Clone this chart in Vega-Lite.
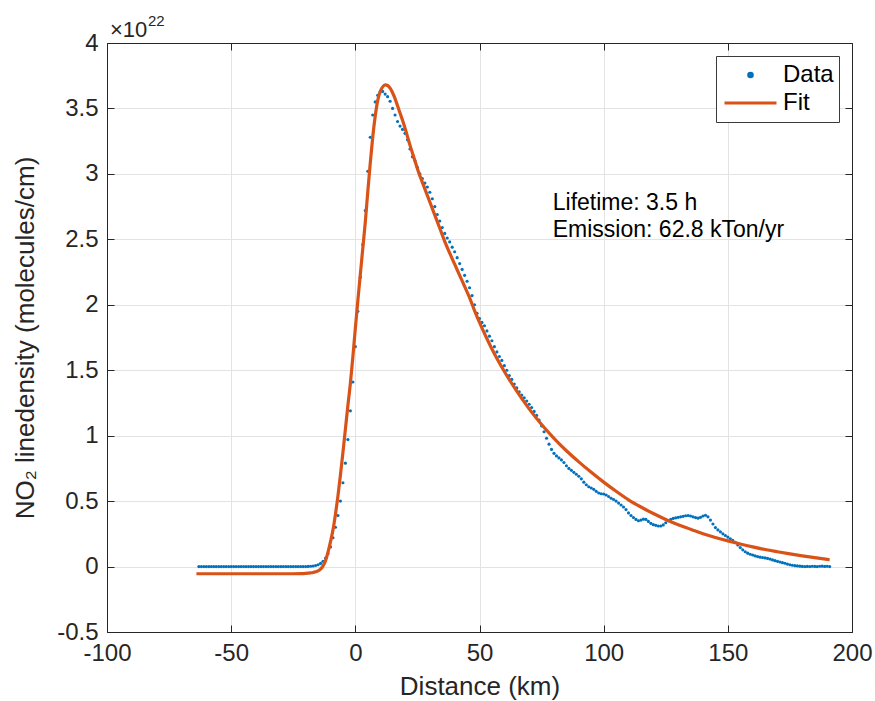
{
  "$schema": "https://vega.github.io/schema/vega-lite/v6.json",
  "width": 745,
  "height": 589,
  "autosize": "none",
  "padding": {"left": 107, "top": 43, "right": 23, "bottom": 69},
  "background": "white",
  "config": {
    "font": "Liberation Sans",
    "view": {"stroke": null},
    "axis": {"labelFont": "Liberation Sans", "titleFont": "Liberation Sans"},
    "legend": {
      "orient": "top-right",
      "offset": 13,
      "title": null,
      "fillColor": "white",
      "strokeColor": "#3a3a3a",
      "padding": 5,
      "cornerRadius": 0,
      "labelFontSize": 24,
      "labelColor": "#000000",
      "labelOffset": 5,
      "symbolOffset": 2,
      "clipHeight": 28,
      "rowPadding": 0
    }
  },
  "datasets": {
    "pts": [
      {"d":-63,"v":0},{"d":-62,"v":0},{"d":-61,"v":0},{"d":-60,"v":0},{"d":-59,"v":0},{"d":-58,"v":0},{"d":-57,"v":0},{"d":-56,"v":0},{"d":-55,"v":0},{"d":-54,"v":0},
      {"d":-53,"v":0},{"d":-52,"v":0},{"d":-51,"v":0},{"d":-50,"v":0},{"d":-49,"v":0},{"d":-48,"v":0},{"d":-47,"v":0},{"d":-46,"v":0},{"d":-45,"v":0},{"d":-44,"v":0},
      {"d":-43,"v":0},{"d":-42,"v":0},{"d":-41,"v":0},{"d":-40,"v":0},{"d":-39,"v":0},{"d":-38,"v":0},{"d":-37,"v":0},{"d":-36,"v":0},{"d":-35,"v":0},{"d":-34,"v":0},
      {"d":-33,"v":0},{"d":-32,"v":0},{"d":-31,"v":0},{"d":-30,"v":0},{"d":-29,"v":0},{"d":-28,"v":0},{"d":-27,"v":0},{"d":-26,"v":0},{"d":-25,"v":0},{"d":-24,"v":0},
      {"d":-23,"v":0},{"d":-22,"v":0},{"d":-21,"v":0},{"d":-20,"v":0},
      {"d":-19,"v":0.001},{"d":-18,"v":0.002},{"d":-17,"v":0.004},{"d":-16,"v":0.008},{"d":-15,"v":0.014},{"d":-14,"v":0.024},{"d":-13,"v":0.04},{"d":-12,"v":0.065},{"d":-11,"v":0.10},{"d":-10,"v":0.15},
      {"d":-9,"v":0.22},{"d":-8,"v":0.30},{"d":-7,"v":0.39},{"d":-6,"v":0.50},{"d":-5,"v":0.64},{"d":-4,"v":0.79},{"d":-3,"v":0.97},{"d":-2,"v":1.19},{"d":-1,"v":1.41},{"d":0,"v":1.68},
      {"d":1,"v":1.95},{"d":2,"v":2.21},{"d":3,"v":2.46},{"d":4,"v":2.72},{"d":5,"v":3.02},{"d":6,"v":3.28},{"d":7,"v":3.45},{"d":8,"v":3.55},{"d":9,"v":3.60},{"d":10,"v":3.625},
      {"d":11,"v":3.63},{"d":12,"v":3.61},{"d":13,"v":3.59},{"d":14,"v":3.555},{"d":15,"v":3.50},{"d":16,"v":3.45},{"d":17,"v":3.40},{"d":18,"v":3.365},{"d":19,"v":3.34},{"d":20,"v":3.31},
      {"d":21,"v":3.26},{"d":22,"v":3.19},{"d":23,"v":3.13},{"d":24,"v":3.10},{"d":25,"v":3.05},{"d":26,"v":3.00},{"d":27,"v":2.965},{"d":28,"v":2.93},{"d":29,"v":2.90},{"d":30,"v":2.86},
      {"d":31,"v":2.81},{"d":32,"v":2.75},{"d":33,"v":2.69},{"d":34,"v":2.64},{"d":35,"v":2.59},{"d":36,"v":2.545},{"d":37,"v":2.51},{"d":38,"v":2.48},{"d":39,"v":2.44},{"d":40,"v":2.405},
      {"d":41,"v":2.36},{"d":42,"v":2.315},{"d":43,"v":2.27},{"d":44,"v":2.225},{"d":45,"v":2.18},{"d":46,"v":2.13},{"d":47,"v":2.07},{"d":48,"v":2.00},{"d":49,"v":1.935},{"d":50,"v":1.895},
      {"d":51,"v":1.865},{"d":52,"v":1.84},{"d":53,"v":1.80},{"d":54,"v":1.76},{"d":55,"v":1.725},{"d":56,"v":1.68},{"d":57,"v":1.64},{"d":58,"v":1.605},{"d":59,"v":1.575},{"d":60,"v":1.535},
      {"d":61,"v":1.50},{"d":62,"v":1.46},{"d":63,"v":1.43},{"d":64,"v":1.395},{"d":65,"v":1.365},{"d":66,"v":1.335},{"d":67,"v":1.31},{"d":68,"v":1.29},{"d":69,"v":1.265},{"d":70,"v":1.24},
      {"d":71,"v":1.215},{"d":72,"v":1.185},{"d":73,"v":1.155},{"d":74,"v":1.12},{"d":75,"v":1.075},{"d":76,"v":1.03},{"d":77,"v":0.98},{"d":78,"v":0.935},{"d":79,"v":0.895},{"d":80,"v":0.865},
      {"d":81,"v":0.845},{"d":82,"v":0.83},{"d":83,"v":0.815},{"d":84,"v":0.795},{"d":85,"v":0.77},{"d":86,"v":0.75},{"d":87,"v":0.735},{"d":88,"v":0.72},{"d":89,"v":0.705},{"d":90,"v":0.69},
      {"d":91,"v":0.67},{"d":92,"v":0.645},{"d":93,"v":0.625},{"d":94,"v":0.61},{"d":95,"v":0.60},{"d":96,"v":0.59},{"d":97,"v":0.575},{"d":98,"v":0.562},{"d":99,"v":0.556},{"d":100,"v":0.554},
      {"d":101,"v":0.547},{"d":102,"v":0.535},{"d":103,"v":0.522},{"d":104,"v":0.512},{"d":105,"v":0.50},{"d":106,"v":0.485},{"d":107,"v":0.47},{"d":108,"v":0.455},{"d":109,"v":0.435},{"d":110,"v":0.41},
      {"d":111,"v":0.39},{"d":112,"v":0.375},{"d":113,"v":0.36},{"d":114,"v":0.35},{"d":115,"v":0.355},{"d":116,"v":0.362},{"d":117,"v":0.36},{"d":118,"v":0.345},{"d":119,"v":0.33},{"d":120,"v":0.32},
      {"d":121,"v":0.315},{"d":122,"v":0.31},{"d":123,"v":0.31},{"d":124,"v":0.318},{"d":125,"v":0.335},{"d":126,"v":0.35},{"d":127,"v":0.36},{"d":128,"v":0.368},{"d":129,"v":0.372},{"d":130,"v":0.376},
      {"d":131,"v":0.38},{"d":132,"v":0.384},{"d":133,"v":0.388},{"d":134,"v":0.39},{"d":135,"v":0.386},{"d":136,"v":0.38},{"d":137,"v":0.374},{"d":138,"v":0.37},{"d":139,"v":0.376},{"d":140,"v":0.386},
      {"d":141,"v":0.392},{"d":142,"v":0.38},{"d":143,"v":0.355},{"d":144,"v":0.325},{"d":145,"v":0.298},{"d":146,"v":0.28},{"d":147,"v":0.265},{"d":148,"v":0.25},{"d":149,"v":0.237},{"d":150,"v":0.225},
      {"d":151,"v":0.212},{"d":152,"v":0.2},{"d":153,"v":0.186},{"d":154,"v":0.165},{"d":155,"v":0.145},{"d":156,"v":0.128},{"d":157,"v":0.113},{"d":158,"v":0.102},{"d":159,"v":0.094},{"d":160,"v":0.088},
      {"d":161,"v":0.081},{"d":162,"v":0.076},{"d":163,"v":0.072},{"d":164,"v":0.069},{"d":165,"v":0.066},{"d":166,"v":0.062},{"d":167,"v":0.057},{"d":168,"v":0.051},{"d":169,"v":0.045},{"d":170,"v":0.04},
      {"d":171,"v":0.035},{"d":172,"v":0.03},{"d":173,"v":0.025},{"d":174,"v":0.019},{"d":175,"v":0.014},{"d":176,"v":0.01},{"d":177,"v":0.007},{"d":178,"v":0.005},{"d":179,"v":0.003},{"d":180,"v":0.001},
      {"d":181,"v":0.0},{"d":182,"v":0.001},{"d":183,"v":0.0},{"d":184,"v":0.002},{"d":185,"v":0.001},{"d":186,"v":0.0},{"d":187,"v":0.002},{"d":188,"v":0.003},{"d":189,"v":0.001},{"d":190,"v":0.002},
      {"d":191,"v":0.0}
    ],
    "fit": [
      {"d":-64,"v":-0.055},{"d":-50,"v":-0.055},{"d":-40,"v":-0.055},{"d":-30,"v":-0.055},{"d":-25,"v":-0.055},{"d":-22,"v":-0.054},{"d":-20,"v":-0.052},{"d":-18,"v":-0.048},{"d":-17,"v":-0.045},{"d":-16,"v":-0.04},
      {"d":-15,"v":-0.033},{"d":-14,"v":-0.02},{"d":-13,"v":0.005},{"d":-12,"v":0.045},{"d":-11,"v":0.11},{"d":-10,"v":0.19},{"d":-9,"v":0.28},{"d":-8,"v":0.40},{"d":-7,"v":0.54},{"d":-6,"v":0.70},
      {"d":-5,"v":0.87},{"d":-4,"v":1.05},{"d":-3,"v":1.23},{"d":-2,"v":1.40},{"d":-1,"v":1.60},{"d":0,"v":1.82},{"d":1,"v":2.03},{"d":2,"v":2.23},{"d":3,"v":2.43},{"d":4,"v":2.63},
      {"d":5,"v":2.86},{"d":6,"v":3.08},{"d":7,"v":3.28},{"d":8,"v":3.44},{"d":9,"v":3.56},{"d":10,"v":3.63},{"d":11,"v":3.665},{"d":12,"v":3.68},{"d":13,"v":3.675},{"d":14,"v":3.655},
      {"d":15,"v":3.62},{"d":16,"v":3.575},{"d":17,"v":3.52},{"d":18,"v":3.465},{"d":19,"v":3.41},{"d":20,"v":3.35},{"d":21,"v":3.285},{"d":22,"v":3.22},{"d":23,"v":3.16},{"d":24,"v":3.10},
      {"d":25,"v":3.04},{"d":26,"v":2.985},{"d":27,"v":2.935},{"d":28,"v":2.885},{"d":30,"v":2.785},{"d":32,"v":2.685},{"d":34,"v":2.585},{"d":36,"v":2.485},{"d":38,"v":2.395},{"d":40,"v":2.31},
      {"d":42,"v":2.225},{"d":44,"v":2.14},{"d":46,"v":2.055},{"d":48,"v":1.955},{"d":50,"v":1.865},{"d":53,"v":1.74},{"d":56,"v":1.625},{"d":60,"v":1.49},{"d":65,"v":1.34},{"d":70,"v":1.205},
      {"d":75,"v":1.085},{"d":80,"v":0.98},{"d":85,"v":0.885},{"d":90,"v":0.80},{"d":95,"v":0.72},{"d":100,"v":0.645},{"d":105,"v":0.575},{"d":110,"v":0.51},{"d":115,"v":0.455},{"d":120,"v":0.405},
      {"d":125,"v":0.36},{"d":130,"v":0.32},{"d":135,"v":0.285},{"d":140,"v":0.25},{"d":145,"v":0.222},{"d":150,"v":0.196},{"d":155,"v":0.172},{"d":160,"v":0.15},{"d":165,"v":0.13},{"d":170,"v":0.113},
      {"d":175,"v":0.097},{"d":180,"v":0.082},{"d":185,"v":0.068},{"d":191,"v":0.052}
    ]
  },
  "layer": [
    {
      "data": {"name": "pts"},
      "mark": {"type": "point", "filled": true, "size": 10, "opacity": 1, "strokeWidth": 0},
      "encoding": {
        "x": {
          "field": "d", "type": "quantitative",
          "scale": {"domain": [-100, 200], "nice": false, "zero": false},
          "axis": {
            "orient": "bottom",
            "values": [-100, -50, 0, 50, 100, 150, 200],
            "labelExpr": "'' + datum.value",
            "labelFontSize": 24, "labelColor": "#262626", "labelPadding": 16,
            "labelFlush": false, "labelOverlap": false,
            "tickSize": -7, "tickColor": "#262626", "tickWidth": 1,
            "domainColor": "#262626", "domainWidth": 1,
            "grid": true, "gridColor": "#e3e3e3", "gridWidth": 1,
            "title": "Distance (km)", "titleFontSize": 26, "titleFontWeight": "normal",
            "titleColor": "#262626", "titlePadding": 8
          }
        },
        "y": {
          "field": "v", "type": "quantitative",
          "scale": {"domain": [-0.5, 4], "nice": false, "zero": false},
          "axis": {
            "orient": "left",
            "values": [-0.5, 0, 0.5, 1, 1.5, 2, 2.5, 3, 3.5, 4],
            "labelExpr": "'' + datum.value",
            "labelFontSize": 24, "labelColor": "#262626", "labelPadding": 16,
            "labelFlush": false, "labelOverlap": false,
            "tickSize": -7, "tickColor": "#262626", "tickWidth": 1,
            "domainColor": "#262626", "domainWidth": 1,
            "grid": true, "gridColor": "#e3e3e3", "gridWidth": 1,
            "title": "NO₂ linedensity (molecules/cm)", "titleFontSize": 26, "titleFontWeight": "normal",
            "titleColor": "#262626", "titlePadding": 18
          }
        },
        "color": {
          "datum": "Data",
          "type": "nominal",
          "scale": {"domain": ["Data", "Fit"], "range": ["#0072BD", "#D95319"]},
          "legend": {
            "encode": {
              "symbols": {
                "update": {
                  "shape": {"signal": "datum.value === 'Fit' ? 'stroke' : 'M0,-0.07A0.07,0.07,0,1,1,0,0.07A0.07,0.07,0,1,1,0,-0.07Z'"},
                  "size": {"value": 2704},
                  "fill": {"signal": "datum.value === 'Fit' ? 'transparent' : '#0072BD'"},
                  "stroke": {"signal": "datum.value === 'Fit' ? '#D95319' : 'transparent'"},
                  "strokeWidth": {"value": 3},
                  "opacity": {"value": 1}
                }
              }
            }
          }
        }
      }
    },
    {
      "data": {"name": "fit"},
      "mark": {"type": "line", "strokeWidth": 3.2, "interpolate": "monotone"},
      "encoding": {
        "x": {"field": "d", "type": "quantitative", "axis": null},
        "y": {"field": "v", "type": "quantitative", "axis": null},
        "color": {
          "datum": "Fit",
          "type": "nominal",
          "legend": {
            "encode": {
              "symbols": {
                "update": {
                  "shape": {"signal": "datum.value === 'Fit' ? 'stroke' : 'M0,-0.07A0.07,0.07,0,1,1,0,0.07A0.07,0.07,0,1,1,0,-0.07Z'"},
                  "size": {"value": 2704},
                  "fill": {"signal": "datum.value === 'Fit' ? 'transparent' : '#0072BD'"},
                  "stroke": {"signal": "datum.value === 'Fit' ? '#D95319' : 'transparent'"},
                  "strokeWidth": {"value": 3},
                  "opacity": {"value": 1}
                }
              }
            }
          }
        }
      }
    },
    {
      "data": {"name": "fit"},
      "mark": {"type": "text", "text": ["Lifetime: 3.5 h", "Emission: 62.8 kTon/yr"], "align": "left", "baseline": "middle", "fontSize": 23, "lineHeight": 27, "color": "#000000", "font": "Liberation Sans"},
      "transform": [{"filter": "datum.d === 12"}],
      "encoding": {
        "x": {"datum": 79.5, "type": "quantitative", "axis": null},
        "y": {"datum": 2.78, "type": "quantitative", "axis": null}
      }
    },
    {
      "data": {"name": "fit"},
      "mark": {"type": "text", "text": "×10", "align": "left", "baseline": "alphabetic", "dx": 3, "dy": -6, "fontSize": 22, "color": "#262626", "font": "Liberation Sans"},
      "transform": [{"filter": "datum.d === 12"}],
      "encoding": {
        "x": {"datum": -100, "type": "quantitative", "axis": null},
        "y": {"datum": 4, "type": "quantitative", "axis": null}
      }
    },
    {
      "data": {"name": "fit"},
      "mark": {"type": "text", "text": "22", "align": "left", "baseline": "alphabetic", "dx": 41, "dy": -17, "fontSize": 15, "color": "#262626", "font": "Liberation Sans"},
      "transform": [{"filter": "datum.d === 12"}],
      "encoding": {
        "x": {"datum": -100, "type": "quantitative", "axis": null},
        "y": {"datum": 4, "type": "quantitative", "axis": null}
      }
    },
    {
      "data": {"name": "fit"},
      "mark": {"type": "point", "opacity": 0},
      "encoding": {
        "x": {
          "field": "d", "type": "quantitative",
          "axis": {
            "orient": "top", "values": [-100, -50, 0, 50, 100, 150, 200],
            "labels": false, "title": null, "grid": false,
            "tickSize": -7, "tickColor": "#262626", "domainColor": "#262626"
          }
        },
        "y": {
          "field": "v", "type": "quantitative",
          "axis": {
            "orient": "right", "values": [-0.5, 0, 0.5, 1, 1.5, 2, 2.5, 3, 3.5, 4],
            "labels": false, "title": null, "grid": false,
            "tickSize": -7, "tickColor": "#262626", "domainColor": "#262626"
          }
        }
      }
    }
  ],
  "resolve": {"axis": {"x": "independent", "y": "independent"}}
}
